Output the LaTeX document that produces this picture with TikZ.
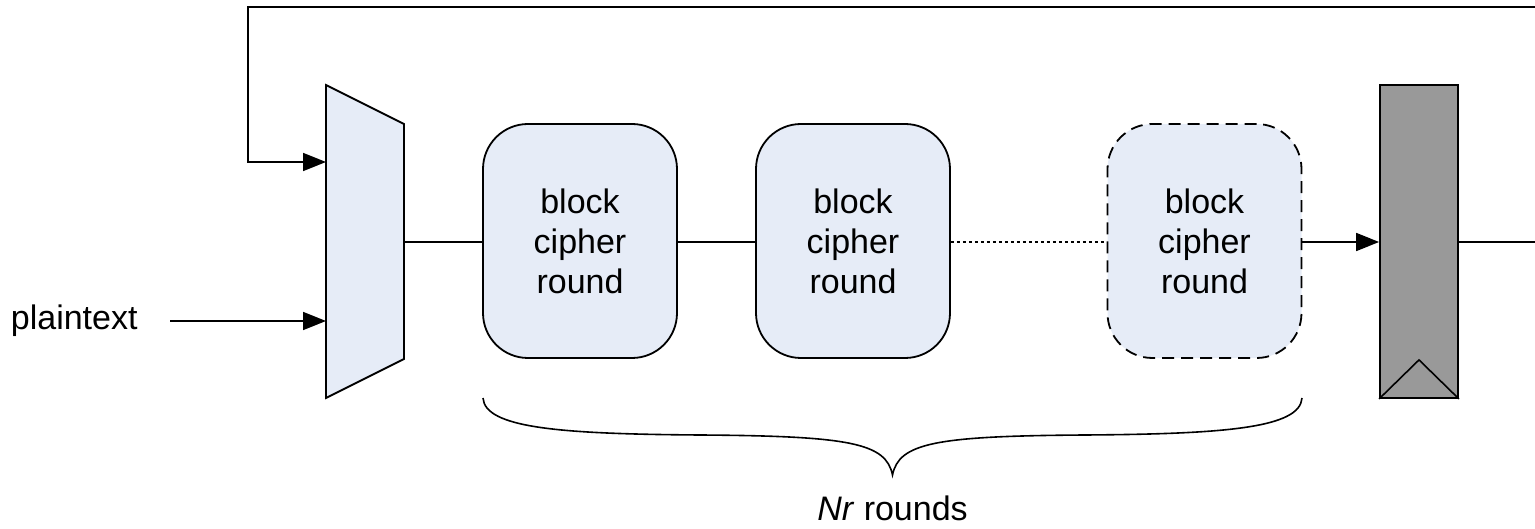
\documentclass[tikz,border=0pt]{standalone}
\usepackage{fontspec}
\setmainfont{Liberation Sans}
\usetikzlibrary{arrows.meta}
\definecolor{blockfill}{HTML}{E6ECF7}
\definecolor{regfill}{HTML}{999999}
\begin{document}
\begin{tikzpicture}[x=1pt,y=-1pt,line width=1.8pt,
  txt/.style={font=\fontsize{34}{40}\selectfont},
  roundbox/.style={draw,fill=blockfill,rounded corners=45pt,minimum width=194pt,minimum height=234pt,inner sep=0pt,align=center,font=\fontsize{34}{40}\selectfont},
  arr/.style={-{Triangle[length=23pt,width=18pt]}},
  regbox/.style={draw,fill=regfill,minimum width=78pt,minimum height=313pt,inner sep=0pt}]
\useasboundingbox (0,0) rectangle (1535,529);
% mux
\coordinate (mA) at (326,85);
\coordinate (mB) at (404,124);
\coordinate (mC) at (404,359);
\coordinate (mD) at (326,398);
\draw[fill=blockfill,line join=miter] (mA) -- (mB) -- (mC) -- (mD) -- cycle;
\coordinate (min1) at (326,162);
\coordinate (min2) at (326,321);
\coordinate (mout) at (404,242);
% blocks
\node[roundbox] (b1) at (580,241) {block\\cipher\\round};
\node[roundbox] (b2) at (853,241) {block\\cipher\\round};
\node[roundbox,dash pattern=on 12pt off 7pt] (b3) at (1204.5,241) {block\\cipher\\round};
% register
\node[regbox] (reg) at (1419,241.5) {};
\draw[line width=1.6pt] (reg.south west) -- ([yshift=39pt]reg.south) -- (reg.south east);
% plaintext
\node[txt,anchor=west,inner sep=0pt] (pt) at (10,321) {plaintext};
\coordinate (ptstart) at (170,321);
\draw[arr] (ptstart) -- (min2);
% feedback
\coordinate (fbR) at (1535,7);
\coordinate (fbL) at (248,7);
\coordinate (fbD) at (248,162);
\draw[arr] (fbR) -- (fbL) -- (fbD) -- (min1);
% chain
\draw (mout) -- (b1.west |- mout);
\draw (b1.east |- mout) -- (b2.west |- mout);
\draw[dash pattern=on 3pt off 3pt] (b2.east |- mout) -- (b3.west |- mout);
\draw[arr] (b3.east |- mout) -- (reg.west |- mout);
\coordinate (outE) at (1535,242);
\draw (reg.east |- mout) -- (outE);
% brace
\coordinate (brL) at (483,398);
\coordinate (brR) at (1302,398);
\coordinate (brT) at (892.5,475);
\draw[line width=1.6pt] (brL) .. controls (485,428) and (560,434) .. (700,435)
  .. controls (850,436) and (886,443) .. (brT)
  .. controls (899,443) and (935,436) .. (1085,435)
  .. controls (1225,434) and (1300,428) .. (brR);
\node[txt,inner sep=0pt] (nr) at (892.5,508) {\textit{Nr} rounds};
\end{tikzpicture}
\end{document}
